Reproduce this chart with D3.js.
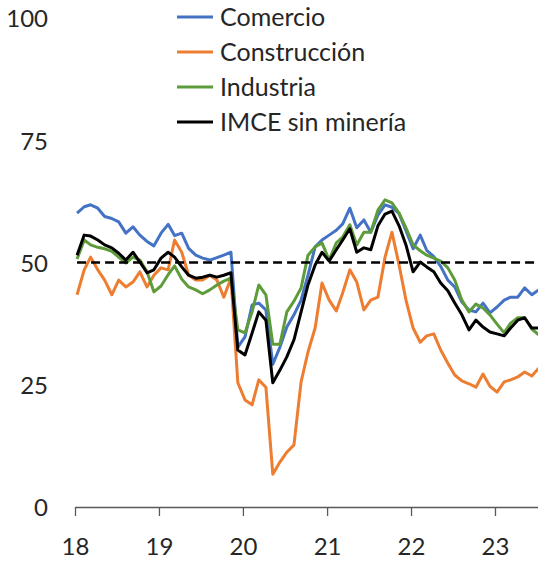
<!DOCTYPE html>
<html>
<head>
<meta charset="utf-8">
<script src="https://cdn.jsdelivr.net/npm/d3@7"></script>
<style>
  body { margin: 0; background: #fff; }
  text { font-family: Lato, "Open Sans", sans-serif; fill: #262626; }
</style>
</head>
<body>
<div id="chart"></div>
<script>
// monthly series, Jan 2018 - Jul 2023
var comercio = [60.1, 61.4, 61.8, 61.1, 59.4, 59.0, 58.3, 56.0, 57.3, 55.6, 54.3, 53.4,
    56.0, 57.8, 55.5, 56.0, 52.9, 51.5, 50.9, 50.5, 51.0, 51.5, 52.1, 32.7,
    34.8, 41.3, 41.7, 40.3, 29.2, 32.7, 36.8, 39.3, 42.3, 47.4, 53.2, 54.6,
    55.6, 56.6, 57.9, 61.1, 57.1, 58.7, 56.2, 59.7, 61.8, 61.3, 60.0, 56.5,
    52.8, 55.6, 52.5, 51.2, 49.2, 46.4, 45.0, 41.9, 40.3, 39.9, 41.7, 39.7,
    40.9, 42.3, 42.9, 42.9, 44.8, 43.4, 44.4];
var construccion = [43.4, 48.5, 51.1, 48.5, 46.4, 43.4, 46.4, 45.0, 46.0, 48.1, 45.0, 47.4,
    48.9, 48.5, 54.6, 52.1, 47.4, 46.4, 46.4, 47.4, 46.4, 42.9, 46.8, 25.4,
    21.9, 20.9, 26.0, 24.5, 6.7, 9.2, 11.2, 12.7, 25.6, 31.7, 36.6, 45.8,
    42.3, 40.1, 43.8, 48.5, 46.0, 40.3, 42.3, 42.9, 51.1, 56.2, 49.5, 42.3,
    36.6, 33.7, 35.0, 35.4, 32.1, 29.4, 27.0, 25.8, 25.2, 24.5, 27.2, 24.7,
    23.5, 25.6, 26.0, 26.6, 27.6, 26.8, 28.4];
var industria = [50.7, 54.6, 53.6, 53.1, 52.8, 52.3, 51.1, 49.9, 51.1, 50.5, 48.1, 44.0,
    45.2, 47.5, 49.3, 46.6, 45.0, 44.4, 43.6, 44.4, 45.4, 46.2, 46.8, 36.2,
    35.6, 39.9, 45.4, 43.4, 33.3, 33.3, 39.9, 42.1, 44.8, 51.5, 53.2, 54.0,
    50.5, 54.0, 55.2, 57.7, 53.6, 56.2, 56.2, 60.7, 62.8, 62.2, 60.1, 57.1,
    53.6, 52.4, 51.5, 50.9, 50.3, 48.9, 46.4, 42.3, 39.9, 41.5, 40.7, 39.3,
    37.4, 35.6, 37.6, 38.7, 38.7, 36.4, 35.2];
var imce = [51.5, 55.6, 55.4, 54.6, 53.6, 53.0, 51.9, 50.5, 52.1, 50.1, 47.9, 48.5,
    50.9, 52.1, 51.1, 49.1, 47.4, 46.8, 47.0, 47.4, 47.0, 47.4, 47.9, 32.1,
    31.1, 35.6, 39.9, 38.2, 25.4, 28.0, 30.7, 34.2, 39.9, 45.4, 49.5, 52.1,
    50.3, 52.6, 54.6, 56.9, 52.1, 53.0, 52.6, 57.5, 59.9, 60.5, 57.5, 53.6,
    48.1, 50.1, 49.1, 48.1, 45.8, 44.2, 41.7, 39.3, 36.2, 38.2, 36.8, 35.8,
    35.4, 35.0, 36.6, 38.2, 38.7, 36.6, 36.6];

var seriesNames = ['Comercio', 'Construcción', 'Industria', 'IMCE sin minería'];
var seriesColors = ['#4472C4', '#ED7D31', '#5E9C3B', '#000000'];
var allSeries = [comercio, construccion, industria, imce];
var yTicks = [0, 25, 50, 75, 100];
var threshold = 50;

// one point per month, plotted a little after the 1st like the original
var firstMonth = new Date(2018, 0, 10);
var months = d3.range(comercio.length).map(i => d3.timeMonth.offset(firstMonth, i));

var svgWidth = 538;
var svgHeight = 561;

var svg = d3.select('#chart')
    .append('svg')
    .attr('width', svgWidth)
    .attr('height', svgHeight);

// date axis: year start to the right edge of the picture
var x = d3.scaleTime()
    .domain([new Date(2018, 0, 1), new Date(2023, 6, 7)])
    .range([75, 538]);

var y = d3.scaleLinear()
    .domain([0, 100])
    .range([507, 18]);

// y labels, no axis line
var yAxis = svg.append('g')
    .attr('transform', 'translate(48,0)')
    .call(d3.axisLeft(y).tickValues(yTicks).tickSize(0).tickPadding(0));
yAxis.select('.domain').remove();
yAxis.selectAll('text')
    .attr('dy', '0.37em')
    .style('font-size', '24px')
    .style('font-family', 'Lato, sans-serif')
    .attr('fill', '#262626');

// x axis
var xAxis = svg.append('g')
    .attr('transform', 'translate(0,507)')
    .call(d3.axisBottom(x)
        .ticks(d3.timeYear.every(1))
        .tickFormat(d3.timeFormat('%y'))
        .tickSize(9)
        .tickSizeOuter(0));
xAxis.select('.domain').attr('stroke', '#595959').attr('stroke-width', 1.3);
xAxis.selectAll('.tick line').attr('stroke', '#595959').attr('stroke-width', 1.3);
xAxis.selectAll('text')
    .attr('y', 48)
    .attr('dy', 0)
    .style('font-size', '24px')
    .style('font-family', 'Lato, sans-serif')
    .attr('fill', '#262626');

var line = d3.line()
    .x((d, i) => x(months[i]))
    .y(d => y(d));

allSeries.forEach(function(values, k) {
    svg.append('path')
        .datum(values)
        .attr('fill', 'none')
        .attr('stroke', seriesColors[k])
        .attr('stroke-width', 3)
        .attr('stroke-linejoin', 'round')
        .attr('d', line);
});

// 50 reference line
svg.append('path')
    .datum(months)
    .attr('fill', 'none')
    .attr('stroke', '#000')
    .attr('stroke-width', 2.5)
    .attr('stroke-dasharray', '9,5')
    .attr('d', d3.line().x(d => x(d)).y(() => y(threshold)));

// legend
var legend = svg.append('g')
    .attr('transform', 'translate(177,17)');

seriesNames.forEach(function(name, k) {
    var row = legend.append('g')
        .attr('transform', `translate(0, ${k * 35})`);
    row.append('line')
        .attr('x1', 0)
        .attr('x2', 36)
        .attr('stroke', seriesColors[k])
        .attr('stroke-width', 3);
    row.append('text')
        .attr('x', 43)
        .attr('y', 9)
        .style('font-size', '25px')
        .text(name);
});
</script>
</body>
</html>
